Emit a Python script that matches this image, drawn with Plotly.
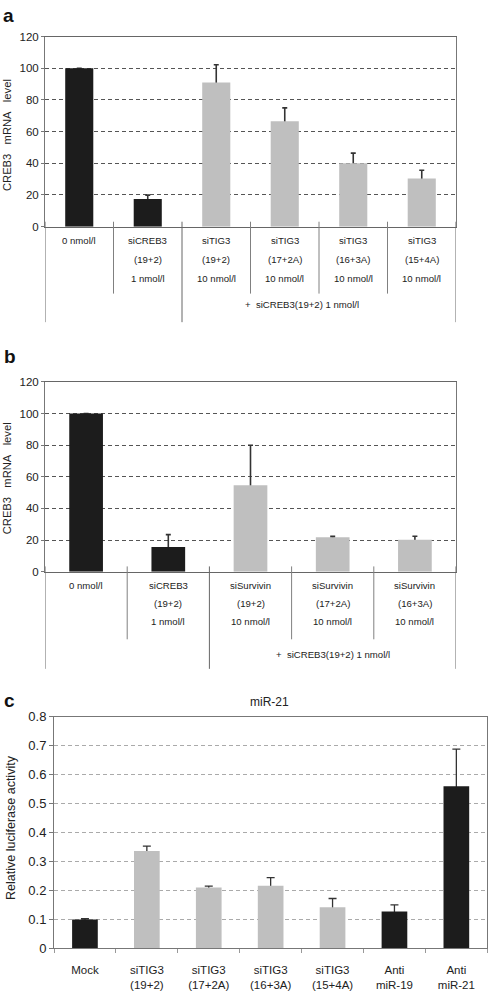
import plotly.graph_objects as go

# ---------------- data ----------------
# Panel a
a_values = [100, 17.4, 91, 66.5, 40, 30.4]
a_err = [0, 2.5, 11.2, 8.5, 6.4, 5.2]
a_control = [True, True, False, False, False, False]
a_line1 = ["0 nmol/l", "siCREB3", "siTIG3", "siTIG3", "siTIG3", "siTIG3"]
a_line2 = ["", "(19+2)", "(19+2)", "(17+2A)", "(16+3A)", "(15+4A)"]
a_line3 = ["", "1 nmol/l", "10 nmol/l", "10 nmol/l", "10 nmol/l", "10 nmol/l"]
a_note = "+  siCREB3(19+2) 1 nmol/l"
a_yticks = [0, 20, 40, 60, 80, 100, 120]

# Panel b
b_values = [100, 15.6, 54.6, 21.8, 20.1]
b_err = [0, 7.8, 25.4, 0.6, 2.3]
b_control = [True, True, False, False, False]
b_line1 = ["0 nmol/l", "siCREB3", "siSurvivin", "siSurvivin", "siSurvivin"]
b_line2 = ["", "(19+2)", "(19+2)", "(17+2A)", "(16+3A)"]
b_line3 = ["", "1 nmol/l", "10 nmol/l", "10 nmol/l", "10 nmol/l"]
b_note = "+  siCREB3(19+2) 1 nmol/l"
b_yticks = [0, 20, 40, 60, 80, 100, 120]

# Panel c
c_cats = ["Mock", "siTIG3<br>(19+2)", "siTIG3<br>(17+2A)", "siTIG3<br>(16+3A)",
          "siTIG3<br>(15+4A)", "Anti<br>miR-19", "Anti<br>miR-21"]
c_values = [0.099, 0.336, 0.21, 0.216, 0.142, 0.127, 0.56]
c_err = [0.003, 0.017, 0.005, 0.028, 0.03, 0.023, 0.128]
c_control = [True, False, False, False, False, True, True]
c_title = "miR-21"
c_yticks = [0, 0.1, 0.2, 0.3, 0.4, 0.5, 0.6, 0.7, 0.8]

ab_ytitle = "CREB3\u00a0\u00a0\u00a0mRNA\u00a0\u00a0\u00a0level"
c_ytitle = "Relative luciferase activity"

# ---------------- style ----------------
W, H = 490, 993
FONT = "Arial, Liberation Sans, Helvetica, sans-serif"
BLACK = "#1c1c1c"
GRAY = "#bfbfbf"
TXT = "#222222"
ERRC = "#333333"
SEP = "#808080"


def px_x(p):
    return p / W


def px_y(p):
    return 1 - p / H


def colors(ctrl):
    return [BLACK if c else GRAY for c in ctrl]


fig = go.Figure()

panels = [
    ("x", "y", a_values, a_err, a_control),
    ("x2", "y2", b_values, b_err, b_control),
]

for xa, ya, vals, errs, ctrl in panels:
    xs = list(range(len(vals)))
    fig.add_trace(go.Bar(x=xs, y=vals, xaxis=xa, yaxis=ya, width=0.41,
                         marker=dict(color="rgba(0,0,0,0)", line=dict(width=0)),
                         error_y=dict(type="data", array=errs, color=ERRC,
                                      thickness=1.6, width=2.5, visible=True),
                         showlegend=False, hoverinfo="skip"))
    fig.add_trace(go.Bar(x=xs, y=vals, xaxis=xa, yaxis=ya, width=0.41,
                         marker=dict(color=colors(ctrl), line=dict(width=0)),
                         showlegend=False))

fig.add_trace(go.Bar(x=c_cats, y=c_values, xaxis="x3", yaxis="y3", width=0.415,
                     marker=dict(color="rgba(0,0,0,0)", line=dict(width=0)),
                     error_y=dict(type="data", array=c_err, color=ERRC,
                                  thickness=1.3, width=4, visible=True),
                     showlegend=False, hoverinfo="skip"))
fig.add_trace(go.Bar(x=c_cats, y=c_values, xaxis="x3", yaxis="y3", width=0.415,
                     marker=dict(color=colors(c_control), line=dict(width=0)),
                     showlegend=False))

# ---------------- axes ----------------
common_y = dict(showline=True, mirror=True, linecolor="#777", linewidth=1,
                ticks="outside", ticklen=3, tickcolor="#777",
                showgrid=True, gridcolor="#555", griddash="4px,3px", gridwidth=1,
                zeroline=False, tickfont=dict(family=FONT, size=11.5, color=TXT))
common_x = dict(showline=True, mirror=True, linecolor="#666", linewidth=1,
                showticklabels=False, ticks="", showgrid=False, zeroline=False)

fig.update_layout(
    width=W, height=H, margin=dict(l=0, r=0, t=0, b=0),
    paper_bgcolor="white", plot_bgcolor="white", barmode="overlay",
    font=dict(family=FONT, color=TXT),
    xaxis=dict(domain=[px_x(45), px_x(456)], anchor="y",
               range=[-0.5, len(a_values) - 0.5], **common_x),
    yaxis=dict(domain=[px_y(223), px_y(30)], anchor="x", range=[0, 120],
               tickvals=a_yticks, **common_y),
    xaxis2=dict(domain=[px_x(45), px_x(456)], anchor="y2",
                range=[-0.5, len(b_values) - 0.5], **common_x),
    yaxis2=dict(domain=[px_y(573.3), px_y(380.7)], anchor="x2", range=[0, 120],
                tickvals=b_yticks, **common_y),
    xaxis3=dict(domain=[px_x(54), px_x(487.3)], anchor="y3", type="category",
                showline=True, mirror=True, linecolor="#777", linewidth=1,
                ticks="outside", tickson="boundaries", ticklen=4, tickcolor="#999",
                showgrid=False, zeroline=False, ticklabelstandoff=11,
                tickfont=dict(family=FONT, size=11.5, color=TXT)),
    yaxis3=dict(domain=[px_y(955.7), px_y(720.6)], anchor="x3", range=[0, 0.8],
                tickvals=c_yticks, ticktext=[("%g" % v) for v in c_yticks],
                showline=True, mirror=True, linecolor="#777", linewidth=1,
                ticks="outside", ticklen=4, tickcolor="#777",
                showgrid=True, gridcolor="#aaa", griddash="4px,3px", gridwidth=1,
                zeroline=False, tickfont=dict(family=FONT, size=13, color=TXT)),
)

ann = []
shapes = []


def label(x, y, text, size, xref="paper", angle=0, color=TXT):
    ann.append(dict(x=x, y=y, xref=xref, yref="paper", text=text, textangle=angle,
                    showarrow=False, xanchor="center", yanchor="middle",
                    font=dict(family=FONT, size=size, color=color)))


def table(xref, n, l1, l2, l3, rows_y, note, note_x, note_y, short, long_, top, short_bot, long_bot):
    for i in range(n):
        for txt, yy in zip((l1[i], l2[i], l3[i]), rows_y):
            if txt:
                label(i, px_y(yy), txt, 9.6, xref=xref)
    label(note_x, px_y(note_y), note, 9.6, xref=xref)
    for b in short:
        shapes.append(dict(type="line", xref=xref, yref="paper", x0=b, x1=b,
                           y0=px_y(top), y1=px_y(short_bot),
                           line=dict(color=SEP, width=1)))
    for b in long_:
        shapes.append(dict(type="line", xref=xref, yref="paper", x0=b, x1=b,
                           y0=px_y(top), y1=px_y(long_bot),
                           line=dict(color="#666", width=1)))


na, nb = len(a_values), len(b_values)
table("x", na, a_line1, a_line2, a_line3, (237, 256.5, 276), a_note, 3.25, 302,
      short=[0.5, 2.5, 3.5, 4.5], long_=[-0.5, 1.5, na - 0.5],
      top=218, short_bot=291, long_bot=320)
table("x2", nb, b_line1, b_line2, b_line3, (587, 605.5, 624), b_note, 3.0, 657.5,
      short=[0.5, 2.5, 3.5], long_=[-0.5, 1.5, nb - 0.5],
      top=568, short_bot=642, long_bot=672)

# axis titles
label(px_x(6.5), px_y(130.5), ab_ytitle, 11.2, angle=-90)
label(px_x(6.5), px_y(479), ab_ytitle, 11.2, angle=-90)
label(px_x(11.5), px_y(833), c_ytitle, 12.5, angle=-90)
label(px_x(269), px_y(706), c_title, 12)

# panel letters
for letter, lx, ly in (("a", 8.5, 9), ("b", 9.5, 355), ("c", 9, 704)):
    label(px_x(lx), px_y(ly), "<b>%s</b>" % letter, 19, color="#111")

fig.update_layout(annotations=ann, shapes=shapes)

# remove the browser's default 8px body margin so the figure fills the window exactly
fig.write_html("out.html", config={"displayModeBar": False},
               post_script="document.body.style.margin='0';")
